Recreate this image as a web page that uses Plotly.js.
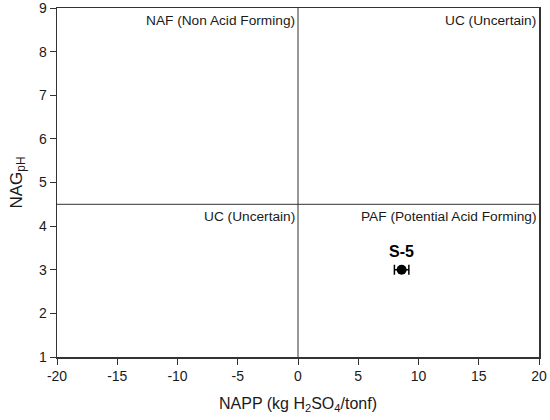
<!DOCTYPE html>
<html>
<head>
<meta charset="utf-8">
<script src="https://cdn.plot.ly/plotly-3.0.1.min.js"></script>
<style>html,body{margin:0;padding:0;background:#fff;}#chart{width:550px;height:420px;}</style>
</head>
<body>
<div id="chart"></div>
<script>
const sampleNames = ["S-5"];
const nappValues = [8.6];
const nagPhValues = [3.0];
const nappErrors = [0.6];
const xTickValues = [-20, -15, -10, -5, 0, 5, 10, 15, 20];
const xTickLabels = ["-20", "-15", "-10", "-5", "0", "5", "10", "15", "20"];
const yTickValues = [1, 2, 3, 4, 5, 6, 7, 8, 9];
const yTickLabels = ["1", "2", "3", "4", "5", "6", "7", "8", "9"];
const nappThreshold = 0;
const nagPhThreshold = 4.5;
const quadrantLabels = ["NAF (Non Acid Forming)", "UC (Uncertain)", "UC (Uncertain)", "PAF (Potential Acid Forming)"];

const font = "Liberation Sans, Arial, sans-serif";
const txt = "#1a1a1a";
const qfont = {family: font, size: 13.7, color: txt};

const trace = {
  x: nappValues, y: nagPhValues, type: "scatter", mode: "markers",
  marker: {color: "#000", size: 10},
  error_x: {type: "data", array: nappErrors, visible: true, color: "#000", thickness: 1.5, width: 5},
  showlegend: false, hoverinfo: "skip"
};

const annotations = [
  {xref: "x", yref: "paper", x: nappThreshold, y: 1, xanchor: "right", yanchor: "top", xshift: -1, yshift: -3, text: quadrantLabels[0], showarrow: false, font: qfont},
  {xref: "paper", yref: "paper", x: 1, y: 1, xanchor: "right", yanchor: "top", xshift: -1, yshift: -3, text: quadrantLabels[1], showarrow: false, font: qfont},
  {xref: "x", yref: "y", x: nappThreshold, y: nagPhThreshold, xanchor: "right", yanchor: "top", xshift: -1, yshift: -3, text: quadrantLabels[2], showarrow: false, font: qfont},
  {xref: "paper", yref: "y", x: 1, y: nagPhThreshold, xanchor: "right", yanchor: "top", xshift: -1, yshift: -3, text: quadrantLabels[3], showarrow: false, font: qfont},
  {xref: "x", yref: "y", x: nappValues[0], y: nagPhValues[0], xanchor: "center", yanchor: "bottom", yshift: 8, text: "<b>" + sampleNames[0] + "</b>", showarrow: false, font: {family: font, size: 16, color: "#000"}}
];

const shapes = [
  {type: "line", xref: "x", yref: "paper", x0: nappThreshold, x1: nappThreshold, y0: 0, y1: 1, line: {color: "#333", width: 1}},
  {type: "line", xref: "paper", yref: "y", x0: 0, x1: 1, y0: nagPhThreshold, y1: nagPhThreshold, line: {color: "#333", width: 1}}
];

const layout = {
  width: 550, height: 420,
  margin: {l: 57, r: 11, t: 8, b: 63},
  paper_bgcolor: "#fff", plot_bgcolor: "#fff",
  font: {family: font, color: txt, size: 14},
  xaxis: {
    range: [-20, 20], tickvals: xTickValues, ticktext: xTickLabels, ticks: "outside", ticklen: 6, tickcolor: "#333",
    showline: true, linecolor: "#333", linewidth: 1.5, mirror: true, showgrid: false, zeroline: false,
    ticklabeloverflow: "allow",
    tickfont: {family: font, size: 14, color: txt},
    title: {text: "NAPP (kg H<sub>2</sub>SO<sub>4</sub>/tonf)", font: {family: font, size: 16, color: txt}, standoff: 14}
  },
  yaxis: {
    range: [1, 9], tickvals: yTickValues, ticktext: yTickLabels, ticks: "outside", ticklen: 6, tickcolor: "#333",
    showline: true, linecolor: "#333", linewidth: 1.5, mirror: true, showgrid: false, zeroline: false,
    ticklabeloverflow: "allow",
    tickfont: {family: font, size: 14, color: txt},
    title: {text: "NAG<sub>pH</sub>", font: {family: font, size: 17, color: txt}, standoff: 12}
  },
  shapes: shapes,
  annotations: annotations
};

Plotly.newPlot("chart", [trace], layout, {displayModeBar: false, staticPlot: true});
</script>
</body>
</html>
